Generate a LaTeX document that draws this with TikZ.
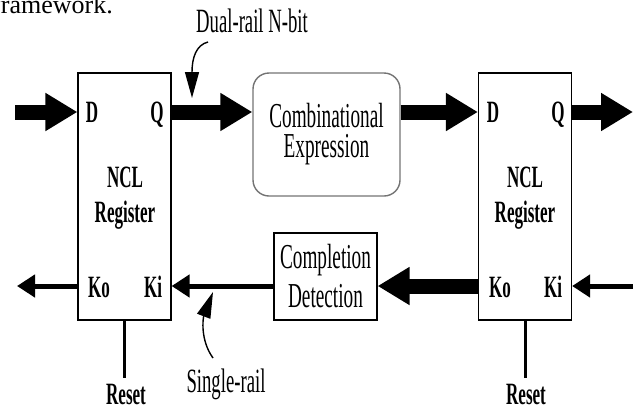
\documentclass[tikz,border=0pt]{standalone}
\usepackage{fontspec}
\setmainfont{Liberation Serif}[FakeStretch=0.55]
\newfontfamily\bodyfont{Liberation Serif}
\usetikzlibrary{positioning,arrows.meta,calc}

\begin{document}
\begin{tikzpicture}[
  x=1pt, y=-1pt,
  every node/.style={inner sep=0pt, text=black, font=\fontsize{35}{30}\selectfont},
  %
  regbox/.style={draw, line width=1.2pt,
    minimum width=93pt, minimum height=247pt},
  combbox/.style={draw=black!55, line width=1.4pt, rounded corners=16pt,
    minimum width=147pt, minimum height=123pt, align=center,
    font=\fontsize{35}{30}\selectfont},
  cdbox/.style={draw, line width=1.2pt,
    minimum width=103pt, minimum height=87pt, align=center,
    font=\fontsize{35}{39}\selectfont},
  pinlbl/.style={anchor=base, font=\fontsize{31}{35}\bfseries\selectfont},
  namelbl/.style={align=center, font=\fontsize{31}{35}\bfseries\selectfont},
  buslbl/.style={anchor=base, font=\fontsize{34}{36}\selectfont},
  bus/.style={line width=15pt, -{Triangle[length=32pt, width=36pt]}},
  ack/.style={line width=5pt, -{Triangle[length=18pt, width=22pt]}},
  note/.style={line width=1.4pt, -{Triangle[length=26pt, width=14pt]}},
  rst/.style={line width=3pt},
]
\useasboundingbox (0,0) rectangle (639,405);

% ────────────── cut-off line of the page text ──────────────
\node[anchor=base east, font=\bodyfont\fontsize{26}{30}\selectfont]
     (prevtxt) at (113,13) {framework.};

% ────────────── BLOCKS ──────────────
\node[regbox]  (regL) at (124.5,196.5) {};
\node[regbox]  (regR) at (525,196.5)   {};
\node[combbox] (comb) at (326.5,134.5) {Combinational\\Expression};
\node[cdbox]   (cd)   at (325.5,276.5) {Completion\\Detection};

% ────────────── REGISTER LABELS ──────────────
\node[pinlbl]  (dL)   at (92,122)    {D};
\node[pinlbl]  (qL)   at (157,122)   {Q};
\node[namelbl] (nclL) at (125,198.5) {NCL\\Register};
\node[pinlbl]  (koL)  at (99,297)    {Ko};
\node[pinlbl]  (kiL)  at (153,297)   {Ki};

\node[pinlbl]  (dR)   at (493,122)   {D};
\node[pinlbl]  (qR)   at (558,122)   {Q};
\node[namelbl] (nclR) at (525,198.5) {NCL\\Register};
\node[pinlbl]  (koR)  at (500,297)   {Ko};
\node[pinlbl]  (kiR)  at (553,297)   {Ki};

\node[pinlbl]  (rstL) at (126,404) {Reset};
\node[pinlbl]  (rstR) at (526,404) {Reset};

% ────────────── DATA PATH (dual-rail) ──────────────
\coordinate (inL)  at (15,112);
\coordinate (outR) at (633,112);
\draw[bus] (inL) -- (inL -| regL.west);
\draw[bus] (regL.east |- inL) -- (comb.west |- inL);
\draw[bus] (comb.east |- inL) -- (regR.west |- inL);
\draw[bus] (regR.east |- outR) -- (outR);

% ────────────── ACKNOWLEDGE PATH ──────────────
\coordinate (ackL) at (17,286);
\coordinate (ackR) at (633,286);
\draw[ack] (regL.west |- ackL) -- (ackL);
\draw[ack] (cd.west |- ackL) -- (regL.east |- ackL);
\draw[bus] (regR.west |- ackL) -- (cd.east |- ackL);
\draw[ack] (ackR) -- (regR.east |- ackR);

% ────────────── RESET LINES ──────────────
\draw[rst, shorten >=6pt] (regL.south) -- (regL.south |- rstL.north);
\draw[rst, shorten >=6pt] (regR.south) -- (regR.south |- rstR.north);

% ────────────── ANNOTATIONS ──────────────
\node[buslbl] (dualtxt)   at (252,32)  {Dual-rail N-bit};
\node[buslbl] (singletxt) at (226,392) {Single-rail};
\coordinate (dualfrom)   at (208,42);
\coordinate (dualto)     at (192,98);
\coordinate (singlefrom) at (213,358);
\coordinate (singleto)   at (213,292);
\draw[note] (dualfrom) .. controls (196,45) and (192,58) .. (dualto);
\draw[note] (singlefrom) .. controls (200,340) and (203,318) .. (singleto);

\end{tikzpicture}
\end{document}
